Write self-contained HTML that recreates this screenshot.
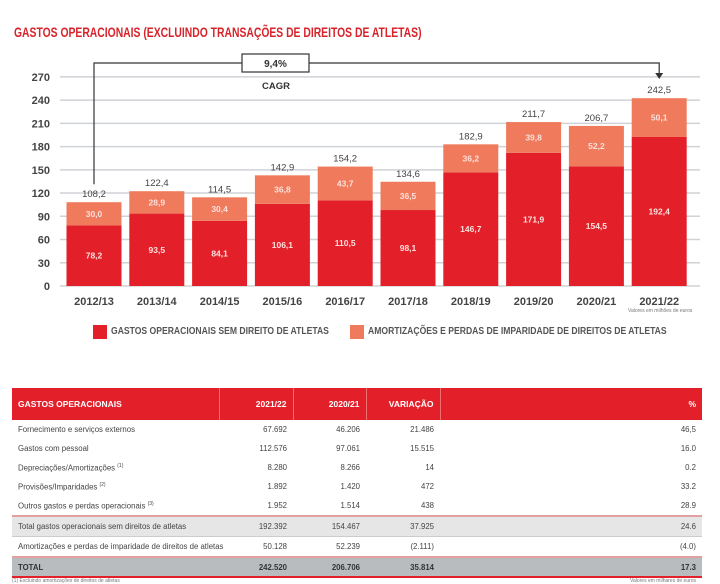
<!DOCTYPE html>
<html><head><meta charset="utf-8">
<style>
body{margin:0;width:720px;height:584px;background:#fff;font-family:"Liberation Sans",sans-serif;overflow:hidden;position:relative}
.t{position:absolute;white-space:nowrap}
table{position:absolute;left:12px;top:388px;width:690px;border-collapse:collapse;font-size:7.8px;color:#444;table-layout:fixed}
td{padding:0 6px;height:19px;text-align:right;white-space:nowrap}
td:first-child{text-align:left}
th{background:#e3202a;color:#fff;height:32px;font-size:8.5px;text-align:right;padding:0 6px;border-left:1px solid #f07070;white-space:nowrap}
th:first-child{text-align:left;border-left:none}
tr.sub td{background:#e6e6e6;border-top:2px solid #e3a0a0;border-bottom:1px solid #ccc}
tr.tot td{background:#b9bcbe;font-weight:bold;color:#333;height:18px;border-top:2px solid #e3a0a0;border-bottom:2px solid #e3202a}
</style></head><body>
<div class="t" style="left:14px;top:24px;font-size:14px;font-weight:bold;color:#d8232a;transform:scaleX(0.74);transform-origin:left">GASTOS OPERACIONAIS (EXCLUINDO TRANSAÇÕES DE DIREITOS DE ATLETAS)</div>
<svg id="chart" width="720" height="380" style="position:absolute;left:0;top:0"></svg>
<div class="t" style="left:628px;top:308px;font-size:5px;color:#777">Valores em milhões de euros</div>
<div style="position:absolute;left:93px;top:325px;width:14px;height:14px;background:#e3202a"></div>
<div class="t" style="left:111px;top:326px;font-size:10px;font-weight:bold;color:#555;transform:scaleX(0.86);transform-origin:left">GASTOS OPERACIONAIS SEM DIREITO DE ATLETAS</div>
<div style="position:absolute;left:350px;top:325px;width:14px;height:14px;background:#ef7b5c"></div>
<div class="t" style="left:368px;top:326px;font-size:10px;font-weight:bold;color:#555;transform:scaleX(0.86);transform-origin:left">AMORTIZAÇÕES E PERDAS DE IMPARIDADE DE DIREITOS DE ATLETAS</div>
<table>
<colgroup><col style="width:207px"><col style="width:74px"><col style="width:73px"><col style="width:74px"><col></colgroup>
<tr><th>GASTOS OPERACIONAIS</th><th>2021/22</th><th>2020/21</th><th>VARIAÇÃO</th><th>%</th></tr>
<tr><td>Fornecimento e serviços externos</td><td>67.692</td><td>46.206</td><td>21.486</td><td>46,5</td></tr>
<tr><td>Gastos com pessoal</td><td>112.576</td><td>97.061</td><td>15.515</td><td>16.0</td></tr>
<tr><td>Depreciações/Amortizações <sup style="font-size:5px">(1)</sup></td><td>8.280</td><td>8.266</td><td>14</td><td>0.2</td></tr>
<tr><td>Provisões/Imparidades <sup style="font-size:5px">(2)</sup></td><td>1.892</td><td>1.420</td><td>472</td><td>33.2</td></tr>
<tr><td>Outros gastos e perdas operacionais <sup style="font-size:5px">(3)</sup></td><td>1.952</td><td>1.514</td><td>438</td><td>28.9</td></tr>
<tr class="sub"><td>Total gastos operacionais sem direitos de atletas</td><td>192.392</td><td>154.467</td><td>37.925</td><td>24.6</td></tr>
<tr><td>Amortizações e perdas de imparidade de direitos de atletas</td><td>50.128</td><td>52.239</td><td>(2.111)</td><td>(4.0)</td></tr>
<tr class="tot"><td>TOTAL</td><td>242.520</td><td>206.706</td><td>35.814</td><td>17.3</td></tr>
</table>
<div class="t" style="left:12px;top:578px;font-size:5px;color:#777">(1) Excluindo amortizações de direitos de atletas</div>
<div class="t" style="left:630px;top:578px;font-size:5px;color:#777">Valores em milhares de euros</div>
<script>
const categories=["2012/13","2013/14","2014/15","2015/16","2016/17","2017/18","2018/19","2019/20","2020/21","2021/22"];
const gastos=[78.2,93.5,84.1,106.1,110.5,98.1,146.7,171.9,154.5,192.4];
const amort=[30.0,28.9,30.4,36.8,43.7,36.5,36.2,39.8,52.2,50.1];
const totals=[108.2,122.4,114.5,142.9,154.2,134.6,182.9,211.7,206.7,242.5];
const ticks=[0,30,60,90,120,150,180,210,240,270];
const fmt=v=>v.toFixed(1).replace('.',',');
const svg=document.getElementById('chart');const NS='http://www.w3.org/2000/svg';
const y=v=>286-v*0.7745;const xc=i=>94+i*62.8;const bw=55;
function mk(t,a,txt){const e=document.createElementNS(NS,t);for(const k in a)e.setAttribute(k,a[k]);if(txt!==undefined)e.textContent=txt;svg.appendChild(e);return e;}
ticks.forEach(t=>{
const l=mk('line',{x1:60,x2:700,y1:y(t),y2:y(t),stroke:'#cfd2d6','stroke-width':1.5});


const tx=mk('text',{x:50,y:y(t)+4,'text-anchor':'end','font-size':11,'font-weight':'bold',fill:'#444'},t);


});
categories.forEach((c,i)=>{
const x0=xc(i)-bw/2;
const b1=mk('rect',{x:x0,y:y(gastos[i]),width:bw,height:y(0)-y(gastos[i]),fill:'#e3202a'});


const b2=mk('rect',{x:x0,y:y(gastos[i]+amort[i]),width:bw,height:y(gastos[i])-y(gastos[i]+amort[i]),fill:'#ef7b5c'});


const l1=mk('text',{x:xc(i),y:(y(0)+y(gastos[i]))/2+3,'text-anchor':'middle','font-size':8.5,'font-weight':'bold',fill:'#fde0dc'},fmt(gastos[i]));


const l2=mk('text',{x:xc(i),y:(y(gastos[i])+y(gastos[i]+amort[i]))/2+3,'text-anchor':'middle','font-size':8.5,'font-weight':'bold',fill:'#fde0dc'},fmt(amort[i]));


const l3=mk('text',{x:xc(i),y:y(totals[i])-5,'text-anchor':'middle','font-size':9.5,fill:'#444'},fmt(totals[i]));


const xl=mk('text',{x:xc(i),y:305,'text-anchor':'middle','font-size':11,'font-weight':'bold',fill:'#444'},c);


});
const p=mk('path',{d:`M${xc(0)} ${y(totals[0])-18} V63 H${xc(9)} V74`,fill:'none',stroke:'#333','stroke-width':1.2});


const ar=mk('path',{d:`M${xc(9)-4} 73 L${xc(9)+4} 73 L${xc(9)} 79 Z`,fill:'#333'});


const bx=mk('rect',{x:242,y:54,width:67,height:18,fill:'#fff',stroke:'#333','stroke-width':1.2});


const ct=mk('text',{x:275.5,y:67,'text-anchor':'middle','font-size':10,'font-weight':'bold',fill:'#333'},'9,4%');


const cl=mk('text',{x:276,y:89,'text-anchor':'middle','font-size':9.5,'font-weight':'bold',fill:'#333'},'CAGR');


</script>
</body></html>
